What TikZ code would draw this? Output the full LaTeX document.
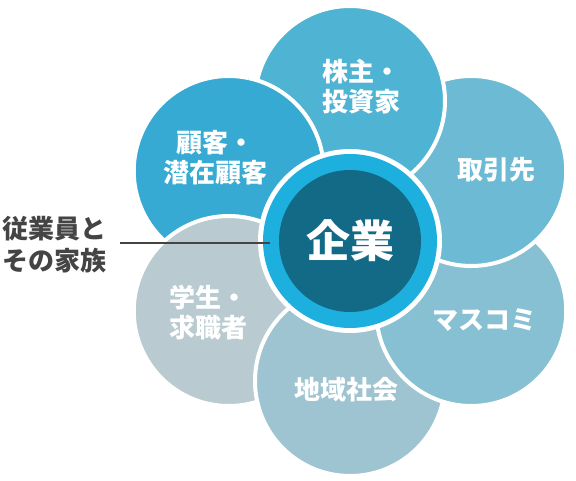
\documentclass[tikz,border=0pt]{standalone}
\usepackage{fontspec}
\setmainfont{Noto Sans CJK JP}
\usetikzlibrary{positioning,calc}
\definecolor{clientblue}{HTML}{36AAD3}
\definecolor{shareblue}{HTML}{4FB3D3}
\definecolor{partnerblue}{HTML}{6DBAD4}
\definecolor{mediablue}{HTML}{86C0D2}
\definecolor{localblue}{HTML}{9EC4D1}
\definecolor{studentgray}{HTML}{B9CBD1}
\definecolor{ringblue}{HTML}{1DB0DE}
\definecolor{coreblue}{HTML}{126A87}
\definecolor{labelgray}{HTML}{444444}
\tikzstyle{petal} = [circle, draw=white, line width=4pt,
    minimum size=190pt, inner sep=0pt]
\tikzstyle{plabel} = [text=white, align=center, inner sep=0pt,
    font=\bfseries\fontsize{26}{30}\selectfont]
\tikzstyle{line} = [draw=labelgray, line width=1.2pt]
\begin{document}
\begin{tikzpicture}[x=1pt, y=1pt]
        \useasboundingbox (0,0) rectangle (576,-481);
        \coordinate (mid) at (350,-241);

        % Place petals (each one covers the next one clockwise)
        \node [petal, fill=clientblue] (client) at ($(mid)+(150:140)$) {};
        \node [petal, fill=studentgray] (student) at ($(mid)+(210:140)$) {};
        \node [petal, fill=localblue] (local) at ($(mid)+(270:140)$) {};
        \node [petal, fill=mediablue] (media) at ($(mid)+(330:140)$) {};
        \node [petal, fill=partnerblue] (partner) at ($(mid)+(30:140)$) {};
        \node [petal, fill=shareblue] (share) at ($(mid)+(90:140)$) {};
        % close the ring: client again, but only over share
        \begin{scope}
          \clip (share.center) circle (104);
          \node [petal, fill=clientblue] at (client.center) {};
        \end{scope}

        % Petal labels
        \node [plabel] (sharetxt) at (361,-87) {株主・\\投資家};
        \node [plabel] (partnertxt) at (496,-170) {取引先};
        \node [plabel] (mediatxt) at (484,-320) {マスコミ};
        \node [plabel] (localtxt) at (346,-390) {地域社会};
        \node [plabel] (studenttxt) at (208,-313) {学生・\\求職者};
        \node [plabel] (clienttxt) at (215,-158) {顧客・\\潜在顧客};

        % Center
        \node [circle, fill=white, minimum size=184pt, inner sep=0pt] (core) at (mid) {};
        \node [circle, fill=ringblue, minimum size=174pt, inner sep=0pt] (ring) at (mid) {};
        \node [circle, fill=coreblue, minimum size=142pt, inner sep=0pt, text=white,
            font=\bfseries\fontsize{44}{48}\selectfont] (firm) at (mid) {企業};

        % Employees
        \node [text=labelgray, align=left, inner sep=0pt, anchor=west,
            font=\bfseries\fontsize{26}{32}\selectfont] (staff) at (2,-245) {従業員と\\その家族};
        \path [line] ([xshift=14pt,yshift=2pt]staff.east) -- ([xshift=12pt,yshift=2pt]core.west |- staff.east);
\end{tikzpicture}
\end{document}
